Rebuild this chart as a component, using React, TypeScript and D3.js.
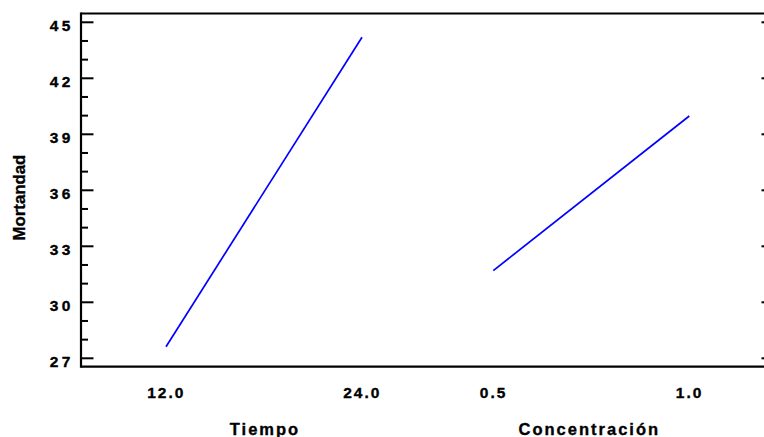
import React from "react";
import * as d3 from "d3";

const factorNames = ["Tiempo", "Concentración"];
const factorLevels = [
  [12.0, 24.0],
  [0.5, 1.0],
];
const levelLabels = [
  ["12.0", "24.0"],
  ["0.5", "1.0"],
];
const meanMortandad = [
  [27.62, 44.2],
  [31.7, 39.98],
];
const yTicks = [27, 30, 33, 36, 39, 42, 45];
const yMinorTicks = d3.range(27, 46, 1);
const yTitle = "Mortandad";

const W = 764;
const H = 437;
const plotLeft = 81;
const plotRight = 774;
const plotTop = 13.5;
const plotBottom = 366.7;
const panelPad = 85;
const panelSpan = 196;
const panelGap = 131.3;

export default function App() {
  const y = d3.scaleLinear().domain([27, 45]).range([358.3, 22.3]);
  const font = "'Liberation Sans', Arial, sans-serif";
  const panels = factorNames.map((name, i) => {
    const x0 = plotLeft + panelPad + i * (panelSpan + panelGap);
    const x = d3.scaleLinear().domain(factorLevels[i]).range([x0, x0 + panelSpan]);
    const pts = factorLevels[i].map((lv, j) => [x(lv), y(meanMortandad[i][j])] as [number, number]);
    return { name, x, pts, x0 };
  });
  const line = d3.line();
  const textStyle = { stroke: "#000", strokeWidth: 0.35 };

  return (
    <svg width={W} height={H} viewBox={`0 0 ${W} ${H}`} style={{ position: "absolute", left: 0, top: 0, overflow: "hidden", display: "block" }}>
      <defs>
        <clipPath id="pageClip">
          <rect x={0} y={0} width={W} height={H} />
        </clipPath>
      </defs>
      <g clipPath="url(#pageClip)">
        <rect x={0} y={0} width={W} height={H} fill="#fff" />
        <g stroke="#000" strokeWidth={2.2} fill="none">
          <line x1={plotLeft} y1={plotTop} x2={plotRight} y2={plotTop} />
          <line x1={plotLeft} y1={plotBottom} x2={plotRight} y2={plotBottom} />
          <line x1={plotLeft} y1={plotTop - 1.1} x2={plotLeft} y2={plotBottom + 1.1} />
        </g>
        <g stroke="#000" strokeWidth={2}>
          {yMinorTicks.map((t) => {
            const major = yTicks.includes(t);
            const len = major ? 12.5 : 7;
            return (
              <g key={t}>
                <line x1={plotLeft} x2={plotLeft + len} y1={y(t)} y2={y(t)} />
                <line x1={plotRight} x2={plotRight - len} y1={y(t)} y2={y(t)} />
              </g>
            );
          })}
        </g>
        <g fontFamily={font} fontWeight="bold" fontSize={15.5} fill="#000" style={textStyle}>
          {yTicks.map((t) => (
            <text key={t} x={74} y={y(t) + 8.2} textAnchor="end" letterSpacing={3.5}>
              {String(t)}
            </text>
          ))}
        </g>
        <text
          transform={`translate(24.5,${197.5}) rotate(-90)`}
          textAnchor="middle"
          fontFamily={font}
          fontWeight="bold"
          fontSize={16.8}
          style={textStyle}
        >
          {yTitle}
        </text>
        {panels.map((p, i) => (
          <g key={p.name}>
            <path d={line(p.pts) || ""} fill="none" stroke="#0000ff" strokeWidth={1.7} />
            {factorLevels[i].map((lv, j) => (
              <text
                key={j}
                x={p.x(lv) + 0.3}
                y={398.3}
                textAnchor="middle"
                fontFamily={font}
                fontWeight="bold"
                fontSize={15.5}
                letterSpacing={2}
                style={textStyle}
              >
                {levelLabels[i][j]}
              </text>
            ))}
            <text
              x={p.x0 + panelSpan / 2 + 1 - i * 3}
              y={435}
              textAnchor="middle"
              fontFamily={font}
              fontWeight="bold"
              fontSize={16.5}
              letterSpacing={2}
              style={textStyle}
            >
              {p.name}
            </text>
          </g>
        ))}
      </g>
    </svg>
  );
}
